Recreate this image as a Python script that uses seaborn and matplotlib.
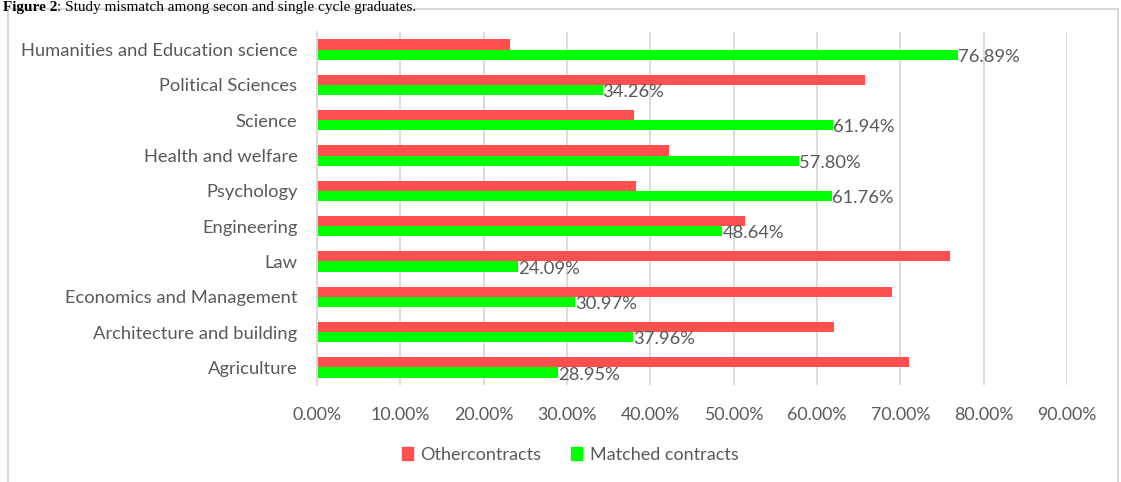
import matplotlib
matplotlib.use("Agg")
import matplotlib.pyplot as plt
import seaborn as sns
import pandas as pd
from matplotlib.patches import Rectangle
from matplotlib.ticker import FuncFormatter, MultipleLocator

categories = [
    "Humanities and Education science",
    "Political Sciences",
    "Science",
    "Health and welfare",
    "Psychology",
    "Engineering",
    "Law",
    "Economics and Management",
    "Architecture and building",
    "Agriculture",
]
matched = [76.89, 34.26, 61.94, 57.80, 61.76, 48.64, 24.09, 30.97, 37.96, 28.95]
other = [round(100 - m, 2) for m in matched]
series_names = ["Othercontracts", "Matched contracts"]
colors = ["#FF5050", "#00FF00"]

df = pd.DataFrame({
    "category": categories * 2,
    "value": other + matched,
    "series": [series_names[0]] * len(categories) + [series_names[1]] * len(categories),
})

sns.set_theme(style="white")
plt.rcParams["font.family"] = ["Lato", "DejaVu Sans"]

W, H = 1121, 482
fig = plt.figure(figsize=(W / 100, H / 100), dpi=100)
ax = fig.add_axes([317 / W, 1 - 385 / H, (1067 - 317) / W, (385 - 32) / H])

sns.barplot(data=df, y="category", x="value", hue="series", order=categories,
            hue_order=series_names, palette=colors, orient="h", width=0.58,
            saturation=1, linewidth=0, ax=ax, legend=True)

ax.set_xlim(0, 90)
ax.xaxis.set_major_locator(MultipleLocator(10))
ax.xaxis.set_major_formatter(FuncFormatter(lambda v, p: f"{v:.2f}%"))
ax.grid(axis="x", color="#D9D9D9", linewidth=1.3)
ax.set_axisbelow(True)
for s in ["top", "right", "bottom"]:
    ax.spines[s].set_visible(False)
ax.spines["left"].set_color("#D9D9D9")
ax.spines["left"].set_linewidth(1.3)
ax.set_xlabel("")
ax.set_ylabel("")
ax.tick_params(axis="y", length=0, pad=14, labelsize=13.2, labelcolor="#595959")
ax.tick_params(axis="x", length=0, pad=16, labelsize=12.8, labelcolor="#595959")

# value labels on the matched-contract bars
green_bars = ax.containers[1]
for rect, v in zip(green_bars, matched):
    ax.text(v, rect.get_y() + rect.get_height() / 2 + 0.06, f"{v:.2f}%",
            ha="left", va="center", fontsize=13.2, color="#595959")

ax.legend_.remove()
handles = [Rectangle((0, 0), 1, 1, color=c) for c in colors]
fig.legend(handles, series_names, loc="center", bbox_to_anchor=(570 / W, 1 - 455 / H),
           ncol=2, frameon=False, fontsize=13, handlelength=0.6,
           handleheight=0.75, handletextpad=0.4, columnspacing=1.7,
           labelcolor="#595959")

# outer chart frame
fig.patches.append(Rectangle((8 / W, -0.05), (1118 - 8) / W, 1 - 9 / H + 0.05,
                             transform=fig.transFigure, fill=False,
                             edgecolor="#D9D9D9", linewidth=1.5))

# caption above the frame
t1 = fig.text(3 / W, 1 - 1 / H, "Figure 2", family="Liberation Serif", weight="bold",
              fontsize=11, va="top", ha="left", color="black")
fig.canvas.draw()
bb = t1.get_window_extent()
fig.text(bb.x1 / W, 1 - 1 / H, ": Study mismatch among secon and single cycle graduates.",
         family="Liberation Serif", fontsize=11, va="top", ha="left", color="black")

fig.savefig("out.png", dpi=100)
